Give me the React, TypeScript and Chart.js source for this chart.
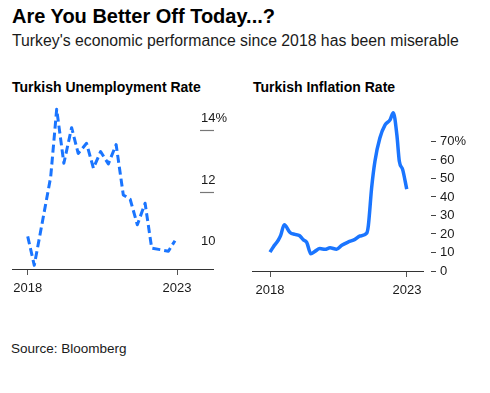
import React, { useEffect, useRef } from "react";
import { Chart, registerables } from "chart.js";

Chart.register(...registerables);

const FONT = "'Liberation Sans', Arial, Helvetica, sans-serif";
const BLUE = "#1a75ff";

// Turkish unemployment rate (%)
const unempDates = [
  2018.0, 2018.22, 2018.5, 2018.77, 2018.97, 2019.21, 2019.47, 2019.69, 2019.97,
  2020.2, 2020.44, 2020.7, 2020.96, 2021.2, 2021.43, 2021.67, 2021.93, 2022.15,
  2022.43, 2022.71, 2022.93,
];
const unempRate = [
  10.56, 9.62, 11.08, 12.5, 14.7, 12.94, 14.1, 13.26, 13.59, 12.78, 13.32, 12.92,
  13.55, 11.91, 11.77, 10.94, 11.64, 10.18, 10.13, 10.08, 10.42,
];
// 9.5 is the axis floor (baseline extension, no label)
const unempTicks = [9.5, 10, 12, 14];
const unempTickLabels = ["", "10", "12", "14%"];

// Turkish inflation rate (%)
const inflDates = [
  2018.0, 2018.12, 2018.3, 2018.39, 2018.52, 2018.73, 2018.91, 2019.07, 2019.22,
  2019.34, 2019.49, 2019.64, 2019.82, 2020.01, 2020.19, 2020.43, 2020.62, 2020.86,
  2021.1, 2021.28, 2021.53, 2021.59, 2021.71, 2021.83, 2022.01, 2022.2, 2022.38,
  2022.5, 2022.63, 2022.72, 2022.84, 2022.99,
];
const inflRate = [
  10.2, 13.0, 16.6, 19.2, 25.0, 20.8, 19.8, 19.2, 16.8, 15.5, 9.3, 10.6, 12.1, 11.7,
  12.5, 11.8, 13.9, 15.7, 17.1, 18.9, 20.5, 24.6, 45.0, 59.3, 71.8, 78.9, 81.6, 85.5,
  73.6, 59.3, 54.9, 44.2,
];
const inflTicks = [0, 10, 20, 30, 40, 50, 60, 70];
const inflTickLabels = ["0", "10", "20", "30", "40", "50", "60", "70%"];

const xTickYears = [2018, 2023];

export default function App() {
  const leftRef = useRef<HTMLCanvasElement>(null);
  const rightRef = useRef<HTMLCanvasElement>(null);

  useEffect(() => {
    const tickFont = { family: FONT, size: 13 };

    const left = new Chart(leftRef.current as HTMLCanvasElement, {
      type: "line",
      data: {
        datasets: [
          {
            data: unempDates.map((x, i) => ({ x, y: unempRate[i] })),
            borderColor: BLUE,
            borderWidth: 3,
            borderDash: [8, 4],
            borderJoinStyle: "round",
            pointRadius: 0,
            tension: 0,
            fill: false,
          },
        ],
      },
      options: {
        responsive: false,
        animation: false,
        layout: { padding: { left: 12, top: 10, right: 0, bottom: 0 } },
        plugins: { legend: { display: false }, tooltip: { enabled: false } },
        scales: {
          x: {
            type: "linear",
            min: 2017.474,
            max: 2023.768,
            afterBuildTicks: (s: any) => {
              s.ticks = xTickYears.map((v) => ({ value: v }));
            },
            afterFit: (s: any) => {
              s.height = 36;
            },
            border: { display: true, color: "#333", width: 1 },
            grid: {
              drawOnChartArea: false,
              drawTicks: true,
              tickLength: 6,
              tickColor: "#555",
              tickWidth: 1,
            },
            ticks: {
              autoSkip: false,
              maxRotation: 0,
              padding: 5.5,
              color: "#1a1a1a",
              font: tickFont,
              callback: (v: any) => String(v),
            },
          },
          y: {
            type: "linear",
            position: "right",
            min: 9.5,
            max: 15,
            afterBuildTicks: (s: any) => {
              s.ticks = unempTicks.map((v) => ({ value: v }));
            },
            afterFit: (s: any) => {
              s.width = 40;
            },
            border: { display: false },
            grid: {
              drawOnChartArea: false,
              drawTicks: true,
              tickLength: 14,
              tickWidth: (c: any) => (c.tick && c.tick.value === 9.5 ? 1 : 1.2),
              tickColor: (c: any) =>
                c.tick && c.tick.value === 9.5
                  ? "#333"
                  : c.tick && c.tick.value === 10
                  ? "rgba(0,0,0,0)"
                  : "#777",
            },
            ticks: {
              padding: -13,
              labelOffset: -12,
              color: "#1a1a1a",
              font: tickFont,
              callback: (v: any) => unempTickLabels[unempTicks.indexOf(v)],
            },
          },
        },
      },
    } as any);

    const right = new Chart(rightRef.current as HTMLCanvasElement, {
      type: "line",
      data: {
        datasets: [
          {
            data: inflDates.map((x, i) => ({ x, y: inflRate[i] })),
            borderColor: BLUE,
            borderWidth: 3.5,
            borderJoinStyle: "round",
            pointRadius: 0,
            cubicInterpolationMode: "monotone",
            fill: false,
          },
        ],
      },
      options: {
        responsive: false,
        animation: false,
        layout: { padding: { left: 7, top: 10, right: 0, bottom: 0 } },
        plugins: { legend: { display: false }, tooltip: { enabled: false } },
        scales: {
          x: {
            type: "linear",
            min: 2017.343,
            max: 2023.584,
            afterBuildTicks: (s: any) => {
              s.ticks = xTickYears.map((v) => ({ value: v }));
            },
            afterFit: (s: any) => {
              s.height = 34;
            },
            border: { display: true, color: "#333", width: 1 },
            grid: {
              drawOnChartArea: false,
              drawTicks: true,
              tickLength: 6,
              tickColor: "#555",
              tickWidth: 1,
            },
            ticks: {
              autoSkip: false,
              maxRotation: 0,
              padding: 5.5,
              color: "#1a1a1a",
              font: tickFont,
              callback: (v: any) => String(v),
            },
          },
          y: {
            type: "linear",
            position: "right",
            min: 0,
            max: 91.4,
            afterBuildTicks: (s: any) => {
              s.ticks = inflTicks.map((v) => ({ value: v }));
            },
            afterFit: (s: any) => {
              s.width = 67;
            },
            border: { display: false },
            grid: {
              drawOnChartArea: false,
              drawTicks: true,
              tickLength: 13,
              tickBorderDash: [0, 8, 5, 1000],
              tickColor: "#444",
              tickWidth: 1.2,
            },
            ticks: {
              padding: 4,
              color: "#1a1a1a",
              font: tickFont,
              callback: (v: any) => inflTickLabels[inflTicks.indexOf(v)],
            },
          },
        },
      },
    } as any);

    return () => {
      left.destroy();
      right.destroy();
    };
  }, []);

  const abs = (extra: any) => ({
    position: "absolute" as const,
    whiteSpace: "nowrap" as const,
    margin: 0,
    ...extra,
  });

  return (
    <div
      style={{
        position: "fixed",
        left: 0,
        top: 0,
        width: 490,
        height: 393,
        background: "#fff",
        overflow: "hidden",
        fontFamily: FONT,
      }}
    >
      <div style={abs({ left: 12, top: 6, fontSize: 20, lineHeight: "20px", fontWeight: 700, color: "#000" })}>
        Are You Better Off Today...?
      </div>
      <div style={abs({ left: 12, top: 32.5, fontSize: 15.8, lineHeight: "16px", color: "#1a1a1a" })}>
        Turkey's economic performance since 2018 has been miserable
      </div>
      <div style={abs({ left: 12, top: 80, fontSize: 14, lineHeight: "14px", fontWeight: 700, color: "#000" })}>
        Turkish Unemployment Rate
      </div>
      <div style={abs({ left: 253, top: 80, fontSize: 14, lineHeight: "14px", fontWeight: 700, color: "#000" })}>
        Turkish Inflation Rate
      </div>
      <canvas
        ref={leftRef}
        width={240}
        height={215}
        style={{ position: "absolute", left: 0, top: 90, width: 240, height: 215 }}
      />
      <canvas
        ref={rightRef}
        width={245}
        height={215}
        style={{ position: "absolute", left: 245, top: 90, width: 245, height: 215 }}
      />
      <div style={abs({ left: 11, top: 342, fontSize: 13.5, lineHeight: "13.5px", color: "#1a1a1a" })}>
        Source: Bloomberg
      </div>
    </div>
  );
}
